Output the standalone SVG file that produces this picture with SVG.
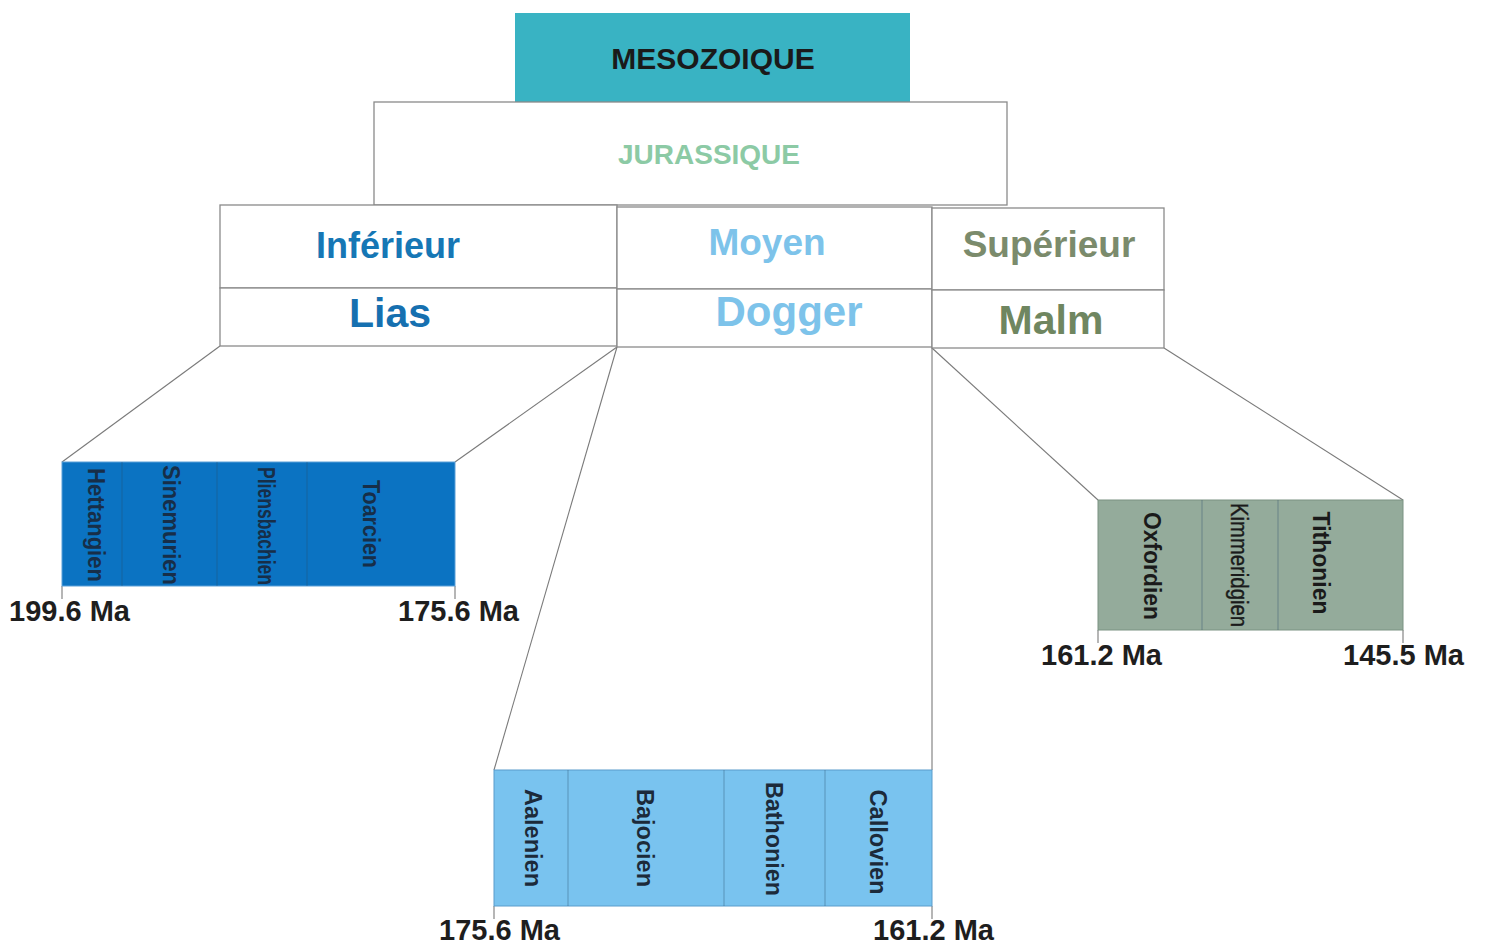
<svg xmlns="http://www.w3.org/2000/svg" width="1485" height="945" viewBox="0 0 1485 945">
<style>
text{font-family:"Liberation Sans",Arial,sans-serif;font-weight:bold}
.box{fill:#fff;stroke:#8a8a8a;stroke-width:1.3}
.con line,.con polyline{stroke:#7a7a7a;stroke-width:1.1;fill:none}
.div{stroke:#2a4a6a;stroke-width:0.8;stroke-opacity:0.5}
.ma{font-size:29px;fill:#1e1e1e;text-anchor:start}
.st{font-size:23px;text-anchor:middle}
.hd{text-anchor:middle}
</style>
<rect width="1485" height="945" fill="#fff"/>
<g class="con">
<line x1="220" y1="346" x2="62" y2="462"/>
<line x1="617" y1="347" x2="455" y2="462"/>
<line x1="617" y1="347" x2="494" y2="770"/>
<line x1="932" y1="347" x2="932" y2="770"/>
<line x1="932" y1="348" x2="1098" y2="500"/>
<line x1="1164" y1="348" x2="1403" y2="500"/>
<line x1="62" y1="586" x2="62" y2="599"/>
<line x1="455" y1="586" x2="455" y2="599"/>
<line x1="494" y1="906" x2="494" y2="919"/>
<line x1="932" y1="906" x2="932" y2="919"/>
<line x1="1098" y1="630" x2="1098" y2="643"/>
<line x1="1403" y1="630" x2="1403" y2="643"/>
</g>
<g id="mesozoique">
<rect x="515" y="13" width="395" height="89" fill="#39b3c3"/>
<text class="hd" x="713" y="69" font-size="30" fill="#1a1a1a">MESOZOIQUE</text>
</g>
<g id="jurassique">
<rect class="box" x="374" y="102" width="633" height="103"/>
<text class="hd" x="709" y="164" font-size="28" fill="#8ccaa5">JURASSIQUE</text>
</g>
<g id="inferieur">
<rect class="box" x="220" y="205" width="397" height="83"/>
<text class="hd" x="388" y="258" font-size="36" fill="#1677b5">Inférieur</text>
</g>
<g id="lias">
<rect class="box" x="220" y="288" width="397" height="58"/>
<text class="hd" x="390" y="327" font-size="41" fill="#1670b0">Lias</text>
</g>
<g id="moyen">
<rect class="box" x="617" y="207" width="315" height="82"/>
<text class="hd" x="767" y="255" font-size="37" fill="#7dc3ea">Moyen</text>
</g>
<g id="dogger">
<rect class="box" x="617" y="289" width="315" height="58"/>
<text class="hd" x="789" y="326" font-size="42" fill="#7dc3ea">Dogger</text>
</g>
<g id="superieur">
<rect class="box" x="932" y="208" width="232" height="82"/>
<text class="hd" x="1049" y="257" font-size="37" fill="#7b8b6c">Supérieur</text>
</g>
<g id="malm">
<rect class="box" x="932" y="290" width="232" height="58"/>
<text class="hd" x="1051" y="334" font-size="41" fill="#6f8660">Malm</text>
</g>
<g id="lias-stages">
<rect x="62" y="462" width="393" height="124" fill="#0b73c2" stroke="#5aa0d8" stroke-width="1"/>
<line class="div" x1="122" y1="462" x2="122" y2="586"/>
<line class="div" x1="217" y1="462" x2="217" y2="586"/>
<line class="div" x1="307" y1="462" x2="307" y2="586"/>
<g fill="#172e48">
<text class="st" font-size="21" transform="translate(96,525) rotate(90)" dy="0.35em" textLength="114" lengthAdjust="spacingAndGlyphs">Hettangien</text>
<text class="st" font-size="21" transform="translate(171,525) rotate(90)" dy="0.35em" textLength="120" lengthAdjust="spacingAndGlyphs">Sinemurien</text>
<text class="st" font-size="16" transform="translate(266,526) rotate(90)" dy="0.35em" textLength="118" lengthAdjust="spacingAndGlyphs">Pliensbachien</text>
<text class="st" font-size="21" transform="translate(371,524) rotate(90)" dy="0.35em" textLength="88" lengthAdjust="spacingAndGlyphs">Toarcien</text>
</g>
<text class="ma" x="9" y="621">199.6 Ma</text>
<text class="ma" x="398" y="621">175.6 Ma</text>
</g>
<g id="dogger-stages">
<rect x="494" y="770" width="438" height="136" fill="#79c3ef" stroke="#5a9ccb" stroke-width="1"/>
<line class="div" x1="568" y1="770" x2="568" y2="906"/>
<line class="div" x1="724" y1="770" x2="724" y2="906"/>
<line class="div" x1="825" y1="770" x2="825" y2="906"/>
<g fill="#1c2a3a">
<text class="st" transform="translate(533,838) rotate(90)" dy="0.35em" textLength="98" lengthAdjust="spacingAndGlyphs">Aalenien</text>
<text class="st" transform="translate(645,838) rotate(90)" dy="0.35em" textLength="98" lengthAdjust="spacingAndGlyphs">Bajocien</text>
<text class="st" transform="translate(774,839) rotate(90)" dy="0.35em" textLength="114" lengthAdjust="spacingAndGlyphs">Bathonien</text>
<text class="st" transform="translate(878,842) rotate(90)" dy="0.35em" textLength="105" lengthAdjust="spacingAndGlyphs">Callovien</text>
</g>
<text class="ma" x="439" y="940">175.6 Ma</text>
<text class="ma" x="873" y="940">161.2 Ma</text>
</g>
<g id="malm-stages">
<rect x="1098" y="500" width="305" height="130" fill="#94ab9b" stroke="#7a9282" stroke-width="1"/>
<line class="div" x1="1202" y1="500" x2="1202" y2="630"/>
<line class="div" x1="1278" y1="500" x2="1278" y2="630"/>
<g fill="#1a1a1a">
<text class="st" transform="translate(1152,566) rotate(90)" dy="0.35em" textLength="108" lengthAdjust="spacingAndGlyphs">Oxfordien</text>
<text class="st" font-size="19" style="font-weight:normal" transform="translate(1239,565) rotate(90)" dy="0.35em" textLength="124" lengthAdjust="spacingAndGlyphs" stroke="#1a1a1a" stroke-width="0.4">Kimmeridgien</text>
<text class="st" transform="translate(1321,563) rotate(90)" dy="0.35em" textLength="103" lengthAdjust="spacingAndGlyphs">Tithonien</text>
</g>
<text class="ma" x="1041" y="665">161.2 Ma</text>
<text class="ma" x="1343" y="665">145.5 Ma</text>
</g>
</svg>
